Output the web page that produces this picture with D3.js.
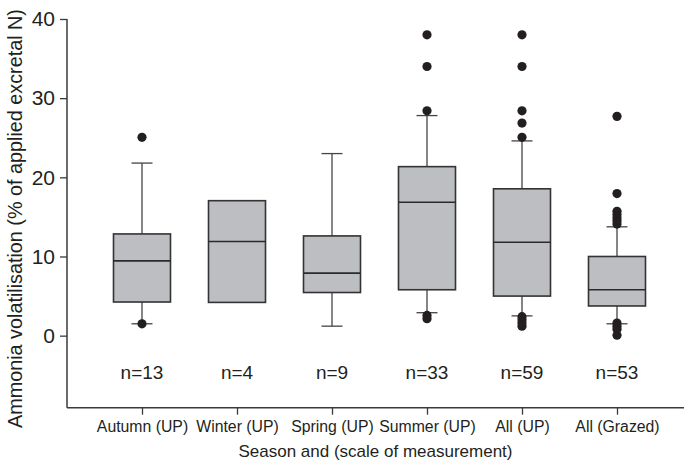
<!DOCTYPE html>
<html>
<head>
<meta charset="utf-8">
<script src="https://cdn.jsdelivr.net/npm/d3@7"></script>
<style>
  html, body { margin: 0; padding: 0; background: #fff; }
  svg { display: block; font-family: "Liberation Sans", Arial, sans-serif; }
</style>
</head>
<body>
<svg id="chart" width="684" height="463"></svg>
<script>
const categories = ["Autumn (UP)", "Winter (UP)", "Spring (UP)", "Summer (UP)", "All (UP)", "All (Grazed)"];
const nLabels = ["n=13", "n=4", "n=9", "n=33", "n=59", "n=53"];
const whiskerLow = [1.5, 4.2, 1.2, 2.9, 2.5, 1.5];
const q1 = [4.25, 4.2, 5.45, 5.8, 5.0, 3.75];
const median = [9.45, 11.9, 7.9, 16.85, 11.8, 5.8];
const q3 = [12.85, 17.05, 12.6, 21.35, 18.55, 10.0];
const whiskerHigh = [21.8, 17.05, 23.0, 27.8, 24.6, 13.75];
const outliers = [
  [25.05, 1.5],
  [],
  [],
  [38.0, 34.0, 28.4, 2.55, 2.15],
  [38.0, 34.0, 28.4, 26.85, 25.05, 2.4, 2.0, 1.6, 1.2],
  [27.7, 17.95, 15.7, 15.3, 14.9, 14.5, 14.1, 1.6, 1.2, 0.8, 0.05]
];
const yTicks = [0, 10, 20, 30, 40];

const svg = d3.select("#chart");
const textColor = "#231f20";
const axisColor = "#3a3a3a";

const x = d3.scalePoint().domain(categories).range([142, 617]);
const y = d3.scaleLinear().domain([-9.1, 40]).range([407.7, 19]);

const boxW = 57, capW = 21;

// Y axis
const yAxis = svg.append("g").attr("transform", "translate(67,0)")
  .call(d3.axisLeft(y).tickValues(yTicks).tickSize(7).tickPadding(5).tickSizeOuter(0));
yAxis.select(".domain").remove();
yAxis.selectAll(".tick line").attr("stroke", axisColor).attr("stroke-width", 1.3);
yAxis.selectAll(".tick text").attr("fill", textColor).style("font-size", "21px")
  .style("font-family", "'Liberation Sans', Arial, sans-serif");
svg.append("line").attr("x1", 67).attr("x2", 67).attr("y1", y(40)).attr("y2", 407.7)
  .attr("stroke", axisColor).attr("stroke-width", 1.5);

// X axis
const xAxis = svg.append("g").attr("transform", "translate(0,407.7)")
  .call(d3.axisBottom(x).tickSize(7).tickPadding(6).tickSizeOuter(0));
xAxis.select(".domain").remove();
xAxis.selectAll(".tick line").attr("stroke", axisColor).attr("stroke-width", 1.3);
xAxis.selectAll(".tick text").attr("fill", textColor).style("font-size", "15.8px")
  .style("font-family", "'Liberation Sans', Arial, sans-serif");
svg.append("line").attr("x1", 67).attr("x2", 684).attr("y1", 407.7).attr("y2", 407.7)
  .attr("stroke", axisColor).attr("stroke-width", 1.5);

// Boxes
const data = categories.map((c, i) => ({
  c, lo: whiskerLow[i], q1: q1[i], med: median[i], q3: q3[i], hi: whiskerHigh[i],
  out: outliers[i], n: nLabels[i]
}));

const g = svg.append("g");
data.forEach(d => {
  const cx = x(d.c);
  const gg = g.append("g");
  if (d.hi > d.q3) {
    gg.append("line").attr("x1", cx).attr("x2", cx).attr("y1", y(d.q3)).attr("y2", y(d.hi))
      .attr("stroke", "#444").attr("stroke-width", 1.3);
    gg.append("line").attr("x1", cx - capW / 2).attr("x2", cx + capW / 2).attr("y1", y(d.hi)).attr("y2", y(d.hi))
      .attr("stroke", "#444").attr("stroke-width", 1.3);
  }
  if (d.lo < d.q1) {
    gg.append("line").attr("x1", cx).attr("x2", cx).attr("y1", y(d.q1)).attr("y2", y(d.lo))
      .attr("stroke", "#444").attr("stroke-width", 1.3);
    gg.append("line").attr("x1", cx - capW / 2).attr("x2", cx + capW / 2).attr("y1", y(d.lo)).attr("y2", y(d.lo))
      .attr("stroke", "#444").attr("stroke-width", 1.3);
  }
  gg.append("rect").attr("x", cx - boxW / 2).attr("width", boxW)
    .attr("y", y(d.q3)).attr("height", y(d.q1) - y(d.q3))
    .attr("fill", "#bdbec1").attr("stroke", "#333").attr("stroke-width", 1.6);
  gg.append("line").attr("x1", cx - boxW / 2).attr("x2", cx + boxW / 2)
    .attr("y1", y(d.med)).attr("y2", y(d.med)).attr("stroke", "#2a2a2a").attr("stroke-width", 1.6);
  gg.selectAll("circle").data(d.out).enter().append("circle")
    .attr("cx", cx).attr("cy", v => y(v)).attr("r", 4.6).attr("fill", "#231f20");
  svg.append("text").attr("x", cx).attr("y", 379).attr("text-anchor", "middle")
    .attr("fill", textColor).style("font-size", "19px").text(d.n);
});

// Axis titles
svg.append("text").attr("x", 375.5).attr("y", 457).attr("text-anchor", "middle")
  .attr("fill", textColor).style("font-size", "17px").text("Season and (scale of measurement)");
svg.append("text").attr("transform", "translate(22,218.5) rotate(-90)").attr("text-anchor", "middle")
  .attr("fill", textColor).style("font-size", "19.8px").text("Ammonia volatilisation (% of applied excretal N)");
</script>
</body>
</html>
